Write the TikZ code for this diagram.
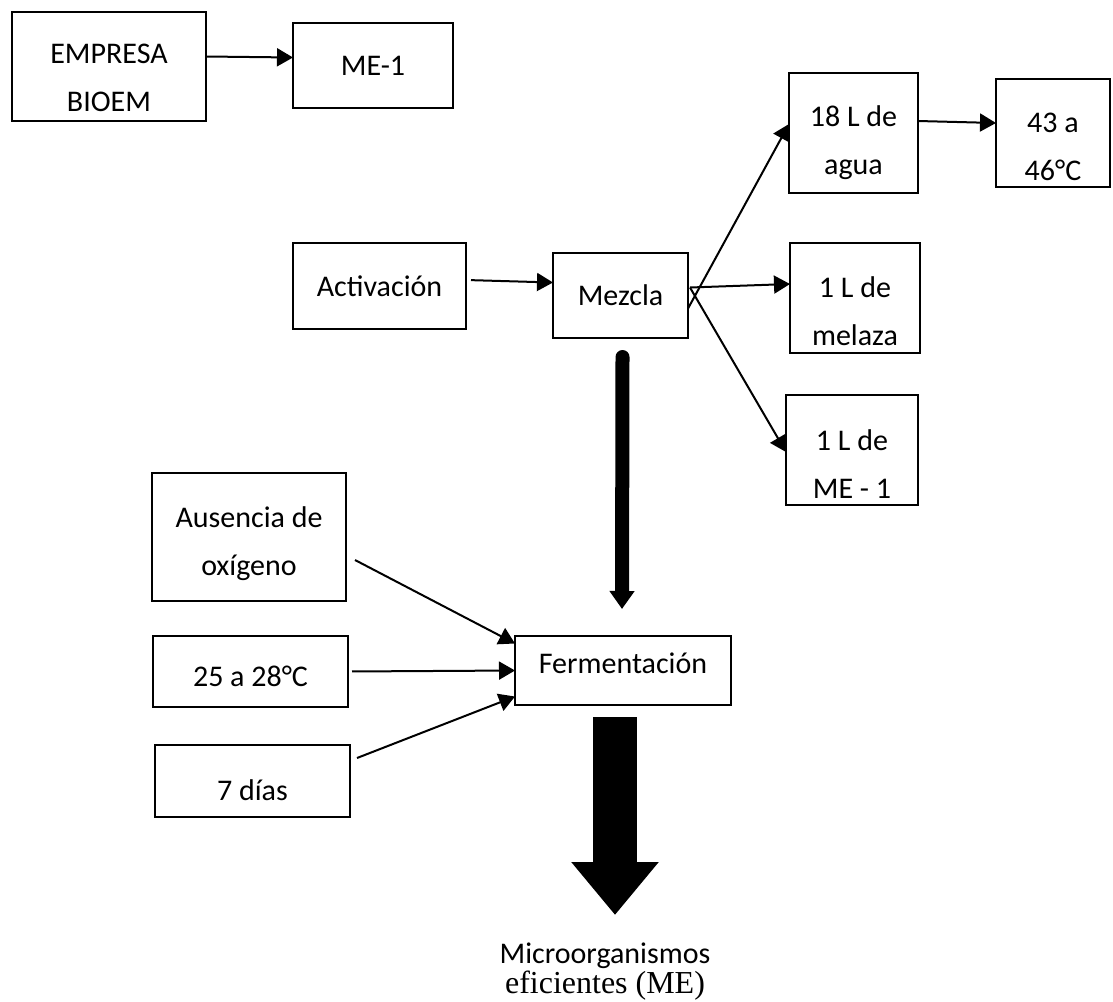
\documentclass[tikz,border=0pt]{standalone}
\usepackage{fontspec}
\setmainfont{Carlito}
\newfontfamily\timesfont{Liberation Serif}
\usetikzlibrary{arrows.meta}
\newcommand{\padtop}[1]{\rule{0pt}{#1}}

\begin{document}
\begin{tikzpicture}[x=0.5pt, y=-0.5pt, >={Triangle[width=9pt,length=8pt]},
  box/.style={draw, line width=1.3pt, align=center, inner sep=0pt, outer sep=0pt, font=\fontsize{15}{24}\selectfont},
  textup/.style={execute at end node={\rule[-#1]{0pt}{#1}}},
  link/.style={->, line width=1pt}]
\useasboundingbox (0,0) rectangle (1113,1001);
\node[box, minimum width=97pt, minimum height=54.5pt] (emp) at (109,66.5) {\padtop{21pt}EMPRESA\\BIOEM};
\node[box, minimum width=80pt, minimum height=42.5pt] (me1) at (373,65.5) {ME-1};
\node[box, minimum width=64.5pt, minimum height=60pt] (agua) at (853.5,133) {\padtop{20pt}18 L de\\agua};
\node[box, minimum width=57pt, minimum height=54pt] (temp) at (1053,133) {\padtop{23.5pt}43 a\\46°C};
\node[box, minimum width=86.5pt, minimum height=43pt] (act) at (379.5,286) {Activación};
\node[box, minimum width=67.5pt, minimum height=42.5pt] (mez) at (620.5,295.5) {Mezcla};
\node[box, minimum width=65pt, minimum height=55pt] (mel) at (855,298) {\padtop{24pt}1 L de\\melaza};
\node[box, minimum width=66pt, minimum height=55pt] (mee) at (852,450) {\padtop{24pt}1 L de\\ME - 1};
\node[box, minimum width=97pt, minimum height=64pt] (aus) at (249,537) {\padtop{17pt}Ausencia de\\oxígeno};
\node[box, minimum width=97.5pt, minimum height=35.5pt] (tfer) at (250.5,671.5) {\padtop{15.5pt}25 a 28°C};
\node[box, minimum width=97.5pt, minimum height=36pt] (dias) at (252.5,781) {\padtop{20pt}7 días};
\node[box, textup=7pt, minimum width=108pt, minimum height=34.5pt] (fer) at (623,670.5) {Fermentación};
\node[align=center, inner sep=0pt, anchor=north, font=\fontsize{15}{15}\selectfont] (micro) at (605,942)
  {Microorganismos\\\timesfont\fontsize{16}{15}\selectfont eficientes (ME)};
\draw[link] ([yshift=5pt]emp.east) -- ([yshift=4pt]me1.west);
\draw[link] ([yshift=6pt]agua.east) -- ([yshift=5pt]temp.west);
\draw[link, shorten <=2.5pt] ([yshift=3pt]act.east) -- ([yshift=6.5pt]mez.west);
\draw[link] ([yshift=-6.5pt]mez.east) -- ([yshift=4.5pt]agua.west);
\draw[link] ([xshift=1pt,yshift=4pt]mez.east) -- ([yshift=7pt]mel.west);
\draw[link] ([xshift=1pt,yshift=4pt]mez.east) -- ([yshift=-1pt]mee.west);
\draw[link] ([shift={(4.5pt,-11.5pt)}]aus.east) -- ([yshift=13.5pt]fer.west);
\draw[link, shorten <=2pt] (tfer.east) -- (fer.west);
\draw[link] ([shift={(3.5pt,11.5pt)}]dias.east) -- ([yshift=-13pt]fer.west);
\draw[line width=7pt, line cap=round, -{Triangle[width=12pt,length=9pt]}] ([xshift=1pt,yshift=-9.5pt]mez.south) -- ([xshift=-0.5pt,yshift=13.5pt]fer.north);
\draw[line width=22pt, -{Triangle[width=42pt,length=26.5pt]}] ([xshift=-4pt,yshift=-6pt]fer.south) -- ([xshift=5pt,yshift=13.5pt]micro.north);
\end{tikzpicture}
\end{document}
